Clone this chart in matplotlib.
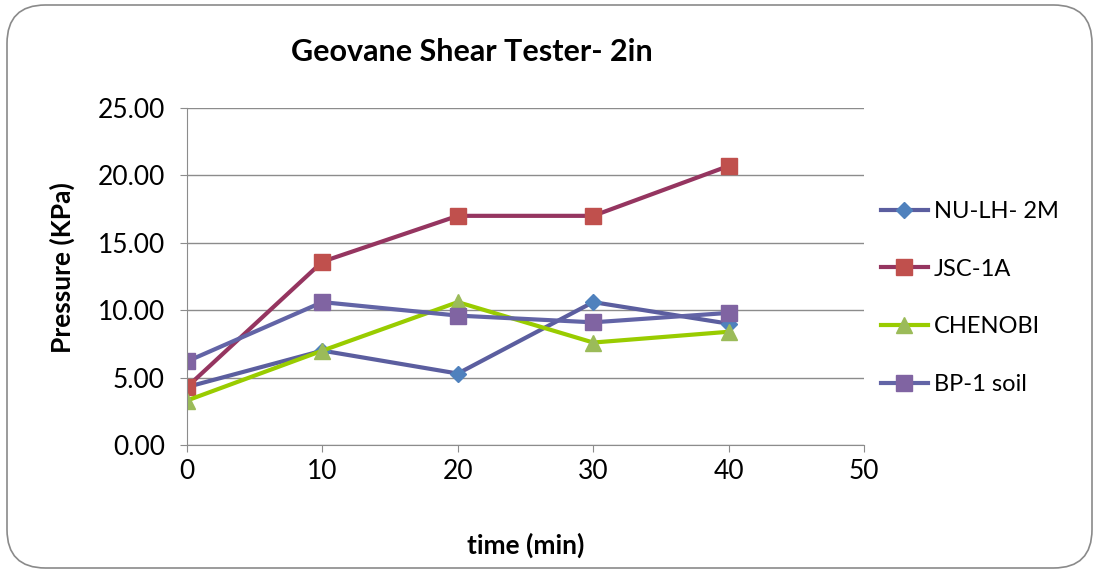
import matplotlib
matplotlib.use("Agg")
import matplotlib.pyplot as plt
from matplotlib.patches import FancyBboxPatch

time_min = [0, 10, 20, 30, 40]
nu_lh_2m = [4.3, 7.0, 5.3, 10.6, 9.0]
jsc_1a = [4.3, 13.6, 17.0, 17.0, 20.7]
chenobi = [3.3, 7.0, 10.6, 7.6, 8.4]
bp1_soil = [6.2, 10.6, 9.6, 9.1, 9.8]
y_ticks = [0, 5, 10, 15, 20, 25]
x_ticks = [0, 10, 20, 30, 40, 50]

plt.rcParams['font.family'] = ['Lato', 'DejaVu Sans']

W, H = 1098, 574
fig = plt.figure(figsize=(W / 100, H / 100), dpi=100)
fig.patch.set_facecolor('white')

border = FancyBboxPatch((7 / W, 6 / H), (W - 13) / W, (H - 11) / H,
                        boxstyle="round,pad=0,rounding_size=0.035",
                        transform=fig.transFigure, facecolor='none',
                        edgecolor='#8a8a8a', linewidth=1.2, mutation_aspect=W / H)
fig.patches.append(border)

ax = fig.add_axes([187 / W, 1 - 445 / H, (864 - 187) / W, (445 - 108) / H])

series = [
    ("NU-LH- 2M", nu_lh_2m, '#5b5e9f', 'D', '#4f81bd', 8.5),
    ("JSC-1A", jsc_1a, '#953560', 's', '#c0504d', 11),
    ("CHENOBI", chenobi, '#99cc00', '^', '#9bbb59', 12),
    ("BP-1 soil", bp1_soil, '#6264a6', 's', '#8064a2', 11),
]
for name, vals, lc, mk, mc, ms in series:
    ax.plot(time_min, vals, color=lc, linewidth=3, marker=mk, markersize=ms,
            markerfacecolor=mc, markeredgecolor=mc, label=name)

ax.set_xlim(0, 50)
ax.set_ylim(0, 25)
ax.set_xticks(x_ticks)
ax.set_yticks(y_ticks)
ax.set_yticklabels([f"{v:.2f}" for v in y_ticks])
ax.grid(axis='y', color='#8c8c8c', linewidth=1)
ax.set_axisbelow(True)
for s in ['top', 'right']:
    ax.spines[s].set_visible(False)
for s in ['left', 'bottom']:
    ax.spines[s].set_color('#8c8c8c')
ax.tick_params(axis='both', labelsize=19, color='#8c8c8c', length=5, direction='out')
ax.tick_params(axis='y', pad=11)
ax.tick_params(axis='x', pad=5)

ax.set_xlabel("time (min)", fontsize=19, fontweight='bold')
ax.xaxis.label.set_va('center')
ax.xaxis.set_label_coords(0.5, (445 - 545) / 337)
ax.set_ylabel("Pressure (KPa)", fontsize=19, fontweight='bold')
ax.yaxis.label.set_va('center')
ax.yaxis.set_label_coords((62 - 187) / 677, (445 - 268) / 337)
fig.text(472 / W, 1 - 52 / H, "Geovane Shear Tester- 2in", fontsize=22,
         fontweight='bold', ha='center', va='center')

leg = ax.legend(loc='center left', bbox_to_anchor=(1.0, (445 - 298) / 337), frameon=False,
                fontsize=17, handlelength=2.0, labelspacing=1.55,
                borderaxespad=0.3, handletextpad=0.25)

fig.savefig("out.png", dpi=100)
